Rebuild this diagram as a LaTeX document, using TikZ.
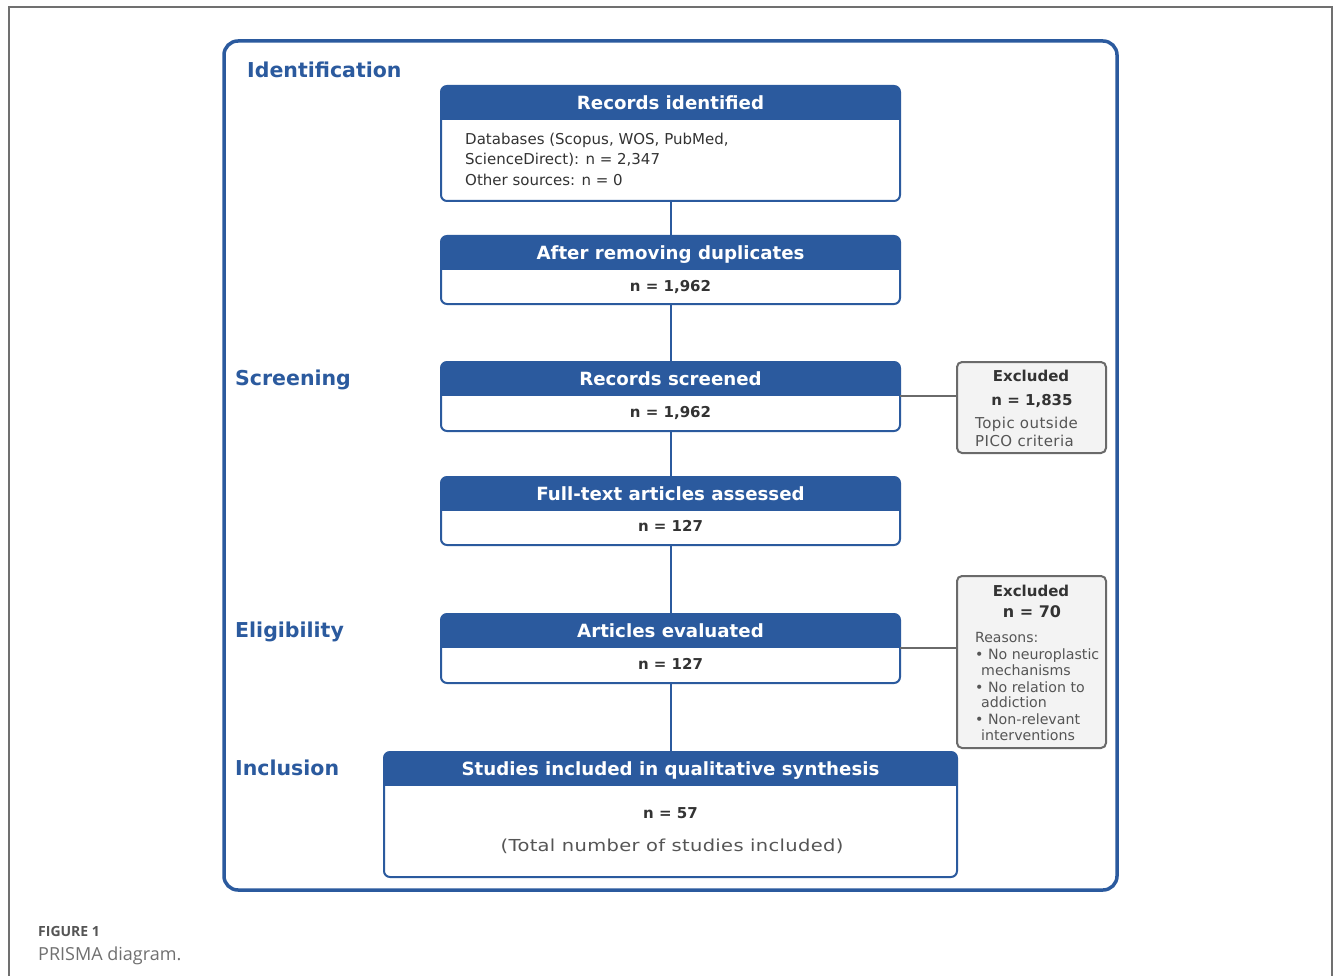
\documentclass[tikz,border=0pt]{standalone}
\usepackage{fontspec}
\setmainfont{DejaVu Sans}
\newfontfamily\capfont{Open Sans}
\definecolor{pblue}{HTML}{2B5A9E}
\definecolor{ptext}{HTML}{333333}
\definecolor{pgray}{HTML}{555555}
\definecolor{exborder}{HTML}{6A6A6A}
\definecolor{exfill}{HTML}{F3F3F3}
\definecolor{framegray}{HTML}{707070}
\newcommand\fs[1]{\fontsize{#1}{#1}\selectfont}
\tikzset{
  boxshape/.style={rectangle, inner sep=0pt, outer sep=0pt, draw=none},
  hdrtext/.style={font=\fs{18.2}\bfseries, text=white, anchor=base, inner sep=0pt},
  phase/.style={font=\fs{20.5}\bfseries, text=pblue, anchor=base west, inner sep=0pt},
  bodytext/.style={font=\fs{15}, text=ptext, anchor=base west, inner sep=0pt},
  ntext/.style={font=\fs{15}\bfseries, text=ptext, anchor=base, inner sep=0pt},
  extitle/.style={font=\fs{15}\bfseries, text=ptext, anchor=base, inner sep=0pt},
  exbody/.style={font=\fs{14.2}, text=pgray, anchor=base west, inner sep=0pt},
  exbox/.style={rectangle, inner sep=0pt, outer sep=0pt, draw=exborder, fill=exfill, line width=2pt, rounded corners=5pt},
  conn/.style={draw=pblue, line width=2pt},
  gconn/.style={draw=exborder, line width=2pt},
}
\newcommand\prismahdr[2]{%
  \begin{scope}
    \clip[rounded corners=6pt] (#1.north west) rectangle (#1.south east);
    \fill[pblue] (#1.north west) rectangle ([yshift=-34pt]#1.north east);
  \end{scope}
  \draw[pblue, line width=2pt, rounded corners=6pt] (#1.north west) rectangle (#1.south east);
  \node[hdrtext] (#1t) at ([yshift=-23.6pt]#1.north) {#2};
}
\begin{document}
\begin{tikzpicture}[x=1pt, y=-1pt]
\useasboundingbox (0,0) rectangle (1335,976);
\fill[white] (0,0) rectangle (1335,976);
% outer figure frame
\draw[framegray, line width=1.5pt] (9,976) -- (9,7) -- (1332,7) -- (1332,976);
% blue frame
\draw[pblue, line width=3.5pt, rounded corners=14pt] (224,41) rectangle (1117,890);

% phase labels
\node[phase] (lid) at (247,77.5) {Identification};
\node[phase] (lsc) at (235,385.5) {Screening};
\node[phase] (lel) at (235,637.5) {Eligibility};
\node[phase] (lin) at (235,775.5) {Inclusion};

% boxes
\node[boxshape, minimum width=459, minimum height=115] (b1) at (670.5,143.5) {};
\node[boxshape, minimum width=459, minimum height=68] (b2) at (670.5,270) {};
\node[boxshape, minimum width=459, minimum height=69] (b3) at (670.5,396.5) {};
\node[boxshape, minimum width=459, minimum height=68] (b4) at (670.5,511) {};
\node[boxshape, minimum width=459, minimum height=69] (b5) at (670.5,648.5) {};
\node[boxshape, minimum width=573, minimum height=125] (b6) at (670.5,814.5) {};

% connectors
\draw[conn] (b1.south) -- (b2.north);
\draw[conn] (b2.south) -- (b3.north);
\draw[conn] (b3.south) -- (b4.north);
\draw[conn] (b4.south) -- (b5.north);
\draw[conn] (b5.south) -- (b6.north);

\prismahdr{b1}{Records identified}
\prismahdr{b2}{After removing duplicates}
\prismahdr{b3}{Records screened}
\prismahdr{b4}{Full-text articles assessed}
\prismahdr{b5}{Articles evaluated}
\prismahdr{b6}{Studies included in qualitative synthesis}

% box 1 body
\node[bodytext] (b1l1) at (465,144.5) {Databases (Scopus, WOS, PubMed,};
\node[bodytext] (b1l2) at (465,164.5) {ScienceDirect): n = 2,347};
\node[bodytext] (b1l3) at (465,185.5) {Other sources: n = 0};

\node[ntext] (b2n) at (670.5,291.5) {n = 1,962};
\node[ntext] (b3n) at (670.5,417.5) {n = 1,962};
\node[ntext] (b4n) at (670.5,531.5) {n = 127};
\node[ntext] (b5n) at (670.5,669.5) {n = 127};
\node[ntext] (b6n) at (670.5,818.5) {n = 57};
\node[font=\fs{16.5}\addfontfeature{FakeStretch=1.18, LetterSpace=2}, text=pgray, anchor=base, inner sep=0pt] (b6d) at (672,851) {(Total number of studies included)};

% excluded boxes
\node[exbox, minimum width=149, minimum height=91] (e1) at (1031.5,407.5) {};
\node[exbox, minimum width=149, minimum height=172] (e2) at (1031.5,662) {};

\coordinate (b3h) at ([yshift=-34pt]b3.north east);
\coordinate (b5h) at ([yshift=-34pt]b5.north east);
\draw[gconn] (b3h) -- (e1.west |- b3h);
\draw[gconn] (b5h) -- (e2.west |- b5h);

\node[extitle] (e1t) at (1031,381.5) {Excluded};
\node[extitle] (e1n) at (1032,405.5) {n = 1,835};
\node[exbody, font=\fs{15}\addfontfeature{LetterSpace=3}] (e1a) at (975,428.5) {Topic outside};
\node[exbody, font=\fs{15}\addfontfeature{LetterSpace=3}] (e1b) at (975,446.5) {PICO criteria};

\node[extitle] (e2t) at (1031,596.5) {Excluded};
\node[extitle, font=\fs{16}\bfseries] (e2n) at (1032,617.8) {n = 70};
\node[exbody, font=\fs{14}] (e2r) at (975,642) {Reasons:};
\node[exbody] (e2a) at (975,659) {\textbullet\ No neuroplastic};
\node[exbody] (e2b) at (981,675) {mechanisms};
\node[exbody] (e2c) at (975,692) {\textbullet\ No relation to};
\node[exbody] (e2d) at (981,707) {addiction};
\node[exbody] (e2e) at (975,724) {\textbullet\ Non-relevant};
\node[exbody] (e2f) at (981,740) {interventions};

% caption
\node[font=\capfont\fs{14}\bfseries, text=pgray, anchor=base west, inner sep=0pt] (cap1) at (38,936) {FIGURE 1};
\node[font=\capfont\fs{18}, text=framegray, anchor=base west, inner sep=0pt] (cap2) at (38,960) {PRISMA diagram.};
\end{tikzpicture}
\end{document}
